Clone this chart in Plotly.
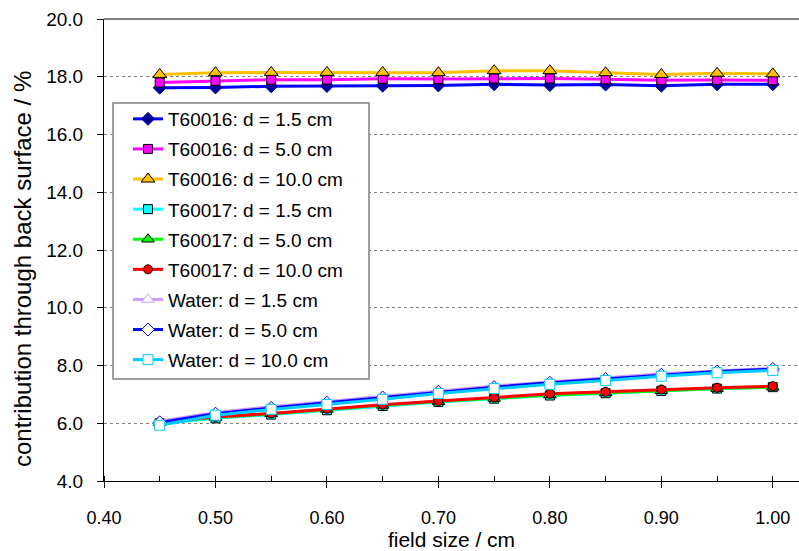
import plotly.graph_objects as go

field_size = [0.45, 0.50, 0.55, 0.60, 0.65, 0.70, 0.75, 0.80, 0.85, 0.90, 0.95, 1.00]

t60016_d15 = [17.62, 17.63, 17.67, 17.68, 17.69, 17.70, 17.74, 17.71, 17.73, 17.69, 17.74, 17.74]
t60016_d50 = [17.80, 17.86, 17.90, 17.90, 17.93, 17.92, 17.94, 17.94, 17.91, 17.88, 17.89, 17.88]
t60016_d100 = [18.08, 18.14, 18.15, 18.15, 18.15, 18.14, 18.21, 18.21, 18.14, 18.08, 18.12, 18.10]

t60017_d15 = [6.00, 6.17, 6.30, 6.45, 6.60, 6.74, 6.85, 6.96, 7.04, 7.12, 7.20, 7.25]
t60017_d50 = [6.02, 6.20, 6.33, 6.48, 6.62, 6.75, 6.86, 6.98, 7.05, 7.13, 7.20, 7.25]
t60017_d100 = [6.04, 6.22, 6.34, 6.50, 6.64, 6.77, 6.89, 7.02, 7.09, 7.17, 7.23, 7.28]

water_d15 = [6.07, 6.37, 6.57, 6.75, 6.93, 7.13, 7.29, 7.43, 7.56, 7.71, 7.81, 7.90]
water_d50 = [6.03, 6.33, 6.53, 6.71, 6.89, 7.09, 7.25, 7.40, 7.53, 7.68, 7.79, 7.88]
water_d100 = [5.93, 6.28, 6.48, 6.65, 6.83, 7.03, 7.20, 7.35, 7.48, 7.63, 7.75, 7.83]

y_ticks = [4, 6, 8, 10, 12, 14, 16, 18, 20]
x_ticks = [0.40, 0.50, 0.60, 0.70, 0.80, 0.90, 1.00]

series = [
    ("T60016: d = 1.5 cm", t60016_d15, "#0000FF", "diamond", "#000099", "#000099", 10),
    ("T60016: d = 5.0 cm", t60016_d50, "#FF00FF", "square", "#FF00FF", "#000000", 9),
    ("T60016: d = 10.0 cm", t60016_d100, "#FFC000", "triangle-up", "#FFC000", "#000000", 12),
    ("T60017: d = 1.5 cm", t60017_d15, "#00FFFF", "square", "#00FFFF", "#000000", 9),
    ("T60017: d = 5.0 cm", t60017_d50, "#00FF00", "triangle-up", "#00FF00", "#000000", 11),
    ("T60017: d = 10.0 cm", t60017_d100, "#FF0000", "circle", "#FF0000", "#000000", 9),
    ("Water: d = 1.5 cm", water_d15, "#CC99FF", "triangle-up", "#FFFFFF", "#CC99FF", 11),
    ("Water: d = 5.0 cm", water_d50, "#0000FF", "diamond", "#FFFFFF", "#0000FF", 10),
    ("Water: d = 10.0 cm", water_d100, "#00CCFF", "square", "#FFFFFF", "#00CCFF", 10),
]

FONT = "Liberation Sans, Arial, sans-serif"

fig = go.Figure()
for i, (name, ys, lc, sym, fc, oc, sz) in enumerate(series):
    fig.add_trace(go.Scatter(
        x=field_size, y=ys, name=name, mode="lines+markers", legendgroup=f"g{i}",
        line=dict(color=lc, width=3),
        marker=dict(symbol=sym, size=sz, color=fc, line=dict(color=oc, width=1)),
    ))

W, H = 799, 551
L, R, T, B = 104, 0, 19, 70
pw, ph = W - L - R, H - T - B

def px_x(px):
    return (px - L) / pw

def px_y(py):
    return (H - B - py) / ph

# legend frame
fig.add_shape(type="rect", xref="paper", yref="paper",
              x0=px_x(113), x1=px_x(369), y0=px_y(379), y1=px_y(103),
              fillcolor="white", line=dict(color="#808080", width=1.5), layer="above")
# top border line
fig.add_shape(type="line", xref="paper", yref="paper", x0=0, x1=1, y0=1, y1=1,
              line=dict(color="black", width=1), layer="above")

# y-axis title as annotation (positioned like the reference)
fig.add_annotation(text="contribution through back surface / %", xref="paper", yref="paper",
                   x=px_x(22), y=px_y(269), textangle=-90, showarrow=False,
                   xanchor="center", yanchor="middle",
                   font=dict(family=FONT, size=24, color="black"))

fig.update_layout(
    width=W, height=H,
    margin=dict(l=L, r=R, t=T, b=B),
    paper_bgcolor="white", plot_bgcolor="white",
    font=dict(family=FONT, color="black"),
    showlegend=True,
    legend=dict(x=px_x(128), y=px_y(100), xanchor="left", yanchor="top",
                bgcolor="rgba(0,0,0,0)", borderwidth=0,
                font=dict(family=FONT, size=19, color="black"),
                tracegroupgap=2.4),
    xaxis=dict(range=[0.40, 1.0235], tickvals=x_ticks, tickformat=".2f",
               showgrid=False, zeroline=False, showline=True, linecolor="black", linewidth=1,
               ticks="outside", ticklen=6, tickcolor="black",
               minor=dict(dtick=0.05, tick0=0.40, ticks="inside", ticklen=5, tickcolor="black", showgrid=False),
               tickfont=dict(family=FONT, size=18), ticklabelstandoff=14,
               title=dict(text="field size / cm", font=dict(family=FONT, size=21), standoff=6)),
    yaxis=dict(range=[4, 20], tickvals=y_ticks, tickformat=".1f",
               showgrid=True, gridcolor="#808080", griddash="dot", gridwidth=1,
               zeroline=False, showline=True, linecolor="black", linewidth=1,
               ticks="outside", ticklen=6, tickcolor="black",
               tickfont=dict(family=FONT, size=19), ticklabelstandoff=10),
    yaxis2=dict(range=[4, 20], overlaying="y", side="left", anchor="x",
                tickvals=y_ticks, ticks="inside", ticklen=6, tickcolor="black",
                showticklabels=False, showgrid=False, zeroline=False, showline=False),
    xaxis2=dict(range=[0.40, 1.0235], overlaying="x", side="bottom", anchor="y",
                tickvals=x_ticks, ticks="inside", ticklen=6, tickcolor="black",
                showticklabels=False, showgrid=False, zeroline=False, showline=False),
)

fig.write_html("out.html")
